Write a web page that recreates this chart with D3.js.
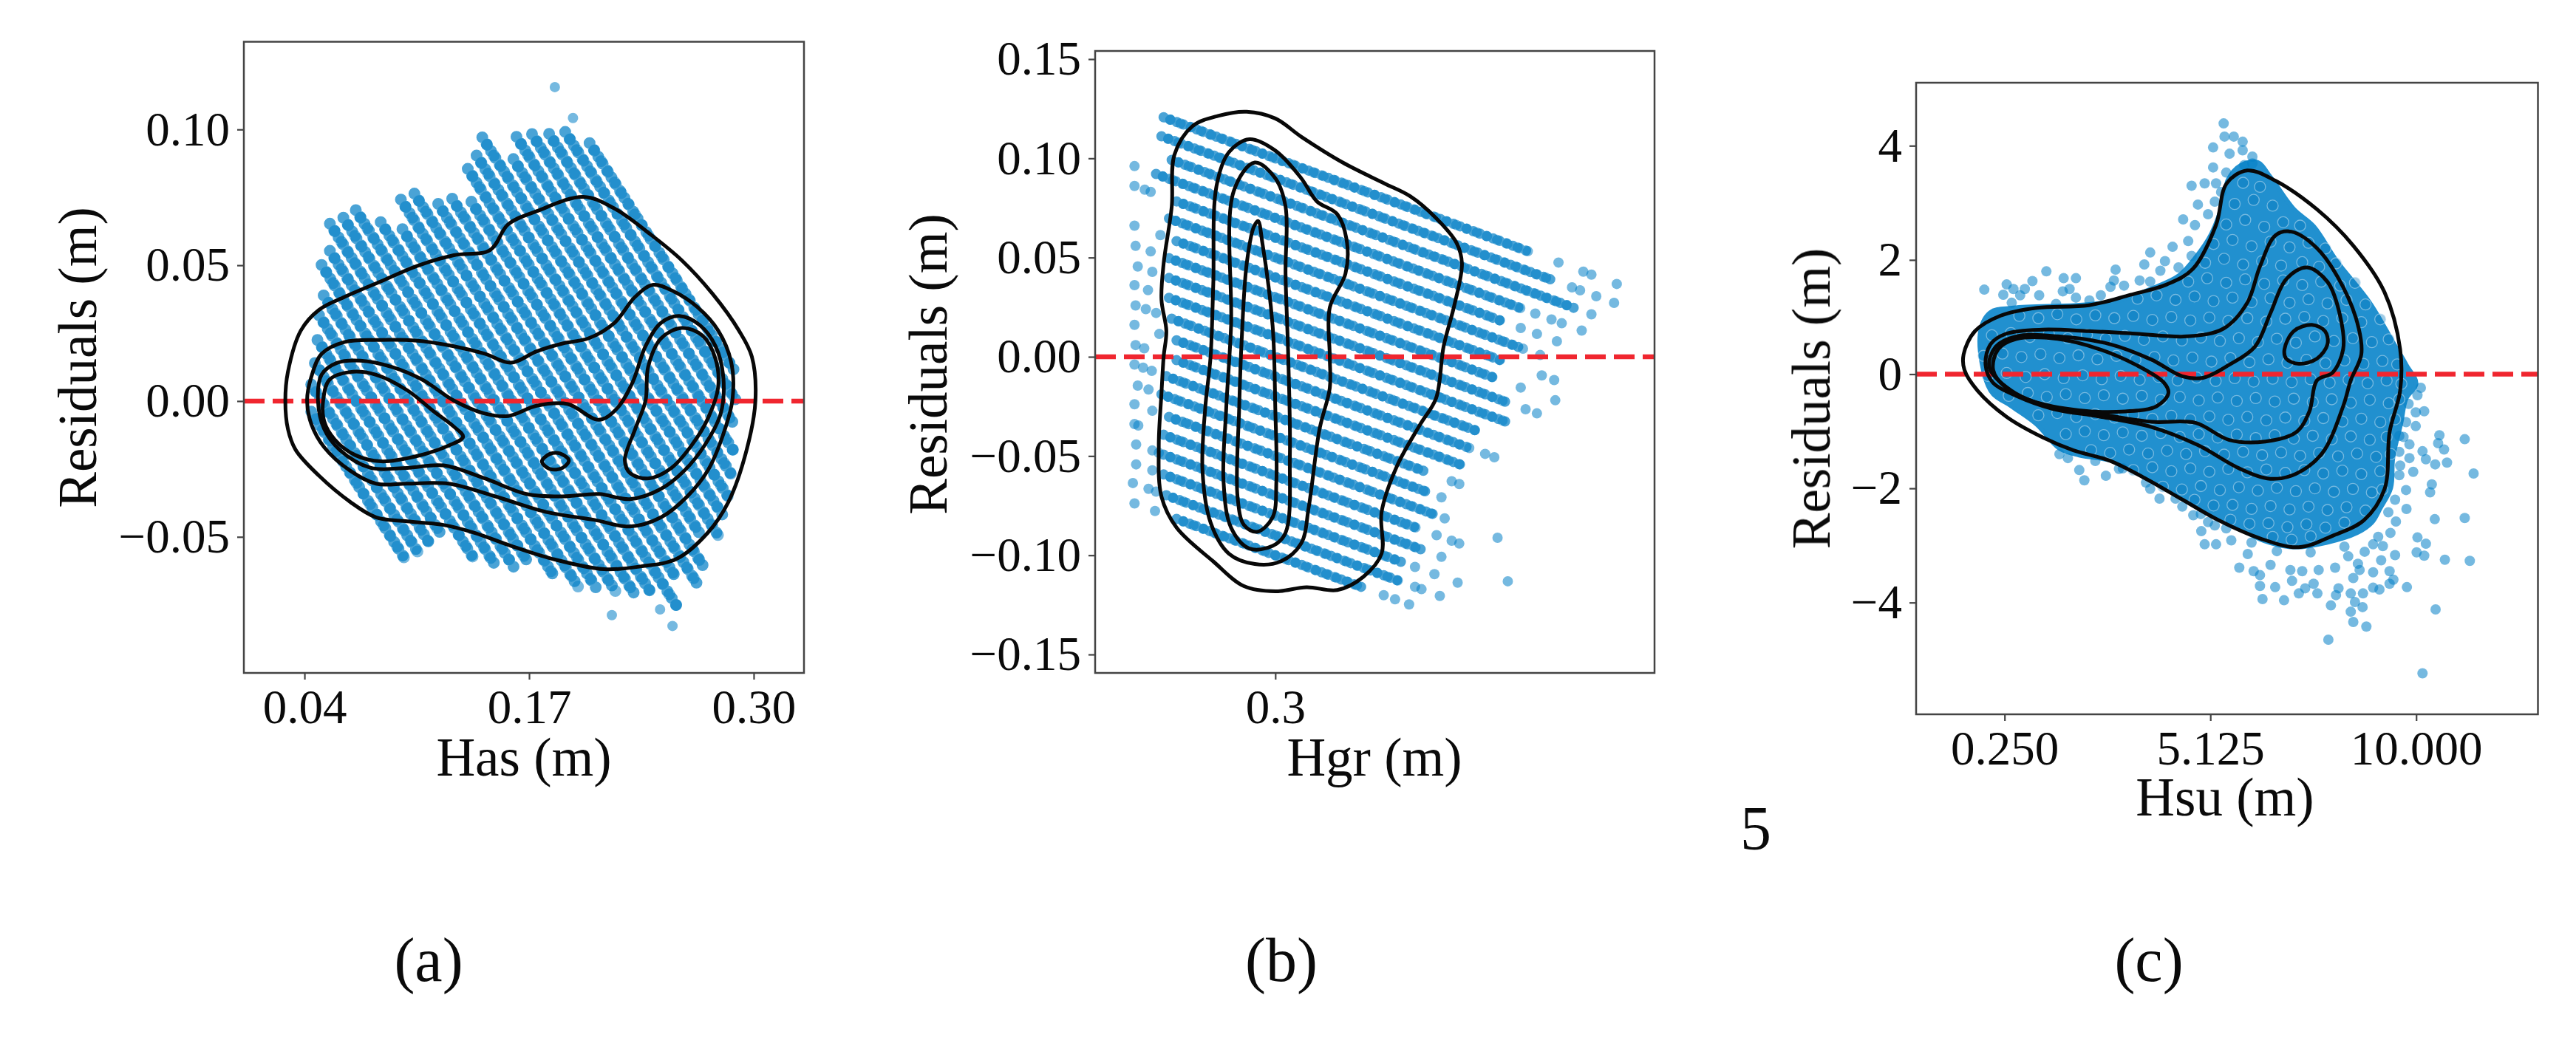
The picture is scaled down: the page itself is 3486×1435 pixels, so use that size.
<!DOCTYPE html>
<html lang="en">
<head>
    <meta charset="UTF-8">
    <title>Residuals vs wave heights</title>
    <script src="https://cdn.jsdelivr.net/npm/d3@7"></script>
    <style>
        body{
            margin: 0;
            background: white;
        }
        text{
            font-family: "Liberation Serif", serif;
            fill: #0a0a0a;
        }
    </style>
</head>
<body>
</body>
<script type="text/javascript">

    // Has panel. The dense cloud sits on diagonal lines, read as start and end of each line: [has, res, has, res]
    let hasStripes = [
        [.0439,-.0039,.0994,-.0594],[.0439,.0061,.1060,-.0560],[.0460,.0140,.1132,-.0532],
        [.0475,.0225,.1189,-.0489],[.0484,.0316,.1375,-.0575],[.0511,.0389,.1516,-.0616],
        [.0499,.0501,.1618,-.0618],[.0547,.0553,.1702,-.0602],[.0547,.0653,.1837,-.0637],
        [.0625,.0675,.1987,-.0687],[.0697,.0703,.2089,-.0689],[.0841,.0659,.2200,-.0700],
        [.0967,.0633,.2314,-.0714],[.0958,.0742,.2401,-.0701],[.1036,.0764,.2572,-.0772],
        [.1174,.0726,.2560,-.0660],[.1255,.0745,.2680,-.0680],[.1366,.0734,.2713,-.0613],
        [.1345,.0855,.2698,-.0498],[.1396,.0904,.2800,-.0500],[.1429,.0971,.2818,-.0418],
        [.1609,.0891,.2854,-.0354],[.1627,.0973,.2878,-.0278],[.1717,.0983,.2884,-.0184],
        [.1816,.0984,.2890,-.0090],[.1909,.0991,.2899,.0001],[.2050,.0950,.2884,.0116]
    ];
    let hasLoose = [[.1849,.1156],[.1954,.1042],[.2179,-.0788],[.2530,-.0828],[.2458,-.0767]];

    let hasContours = [
        [[.0289,.0002],[.0304,.0107],[.0379,.0260],[.0484,.0336],[.0634,.0384],[.0844,.0441],[.1054,.0498],[.1264,.0537],[.1474,.0556],[.1579,.0651],[.1744,.0699],[.2014,.0752],[.2194,.0709],[.2404,.0613],[.2584,.0518],[.2764,.0393],[.2914,.0260],[.2989,.0164],[.3010,.0002],[.2959,-.0180],[.2854,-.0371],[.2734,-.0485],[.2554,-.0581],[.2344,-.0609],[.2134,-.0619],[.1834,-.0581],[.1594,-.0533],[.1384,-.0485],[.1204,-.0456],[.0994,-.0443],[.0814,-.0428],[.0664,-.0371],[.0484,-.0275],[.0349,-.0180],[.0304,-.0103]],
        [[.0415,.0002],[.0439,.0088],[.0499,.0174],[.0634,.0218],[.0844,.0225],[.1054,.0222],[.1264,.0202],[.1444,.0174],[.1594,.0141],[.1744,.0183],[.1894,.0212],[.2044,.0231],[.2194,.0288],[.2314,.0384],[.2419,.0428],[.2539,.0403],[.2674,.0346],[.2794,.0260],[.2869,.0145],[.2878,.0011],[.2824,-.0122],[.2734,-.0256],[.2614,-.0352],[.2464,-.0428],[.2284,-.0462],[.2074,-.0437],[.1804,-.0409],[.1504,-.0351],[.1234,-.0304],[.0994,-.0304],[.0814,-.0304],[.0664,-.0256],[.0514,-.0170],[.0439,-.0084]],
        [[.0478,.0002],[.0499,.0097],[.0589,.0141],[.0724,.0149],[.0904,.0126],[.1084,.0078],[.1264,.0002],[.1444,-.0046],[.1579,-.0055],[.1744,-.0017],[.1924,-.0011],[.2104,-.0069],[.2209,-.0027],[.2299,.0069],[.2374,.0202],[.2464,.0288],[.2569,.0313],[.2689,.0279],[.2779,.0202],[.2824,.0088],[.2809,-.0046],[.2719,-.0160],[.2599,-.0256],[.2464,-.0323],[.2284,-.0361],[.2104,-.0342],[.1894,-.0351],[.1684,-.0342],[.1444,-.0285],[.1204,-.0237],[.0994,-.0246],[.0784,-.0246],[.0604,-.0180],[.0514,-.0103]],
        [[.0508,.0002],[.0544,.0078],[.0664,.0107],[.0814,.0097],[.0994,.0040],[.1144,-.0036],[.1264,-.0094],[.1318,-.0132],[.1234,-.0164],[.1054,-.0202],[.0844,-.0222],[.0694,-.0199],[.0574,-.0141],[.0514,-.0074]],
        [[.2254,-.0218],[.2314,-.0103],[.2374,.0002],[.2389,.0126],[.2464,.0231],[.2584,.0269],[.2704,.0241],[.2779,.0155],[.2794,.0050],[.2734,-.0065],[.2644,-.0160],[.2524,-.0246],[.2389,-.0285],[.2284,-.0265]],
        [[.1774,-.0222],[.1819,-.0195],[.1879,-.0193],[.1930,-.0218],[.1894,-.0246],[.1819,-.0250]]
    ];

    // Hgr panel, same idea
    let hgrStripes = [
        [.2793,.1207,.3476,.0524],[.2789,.1111,.3519,.0381],[.2808,.0992,.3553,.0247],
        [.2779,.0921,.3461,.0239],[.2817,.0783,.3423,.0177],[.2803,.0697,.3461,.0039],
        [.2817,.0583,.3423,-.0023],[.2803,.0497,.3406,-.0106],[.2803,.0397,.3437,-.0237],
        [.2803,.0297,.3430,-.0330],[.2808,.0192,.3375,-.0375],[.2817,.0083,.3365,-.0465],
        [.2817,-.0017,.3348,-.0548],[.2798,-.0098,.3283,-.0583],[.2789,-.0189,.3286,-.0686],
        [.2803,-.0303,.3292,-.0792],[.2793,-.0393,.3268,-.0868],[.2793,-.0493,.3274,-.0974],
        [.2793,-.0593,.3240,-.1040],[.2798,-.0698,.3231,-.1131],[.2817,-.0817,.3160,-.1160]
    ];
    let hgrLoose = [
        [.2739,.0961],[.2739,.0861],[.2758,.0842],[.2769,.0831],[.2739,.0661],[.2787,.0613],[.2741,.0559],[.2769,.0531],
        [.2745,.0455],[.2772,.0428],[.2739,.0361],[.2764,.0336],[.2741,.0259],[.2760,.0240],[.2779,.0221],[.2739,.0161],
        [.2785,.0115],[.2741,.0059],[.2757,.0043],[.2739,-.0039],[.2755,-.0055],[.2771,-.0071],[.2745,-.0145],[.2765,-.0165],
        [.2739,-.0239],[.2772,-.0272],[.2739,-.0339],[.2746,-.0346],[.2742,-.0442],[.2772,-.0472],[.2784,-.0484],[.2742,-.0542],
        [.2772,-.0572],[.2736,-.0636],[.2765,-.0665],[.2779,-.0679],[.2739,-.0739],[.2777,-.0777],
        [.3525,.0475],[.3571,.0429],[.3586,.0414],[.3633,.0367],[.3550,.0350],[.3565,.0335],[.3595,.0305],[.3628,.0272],
        [.3586,.0214],[.3482,.0218],[.3512,.0188],[.3531,.0169],[.3568,.0132],[.3455,.0145],[.3485,.0115],[.3522,.0078],
        [.3491,.0009],[.3494,-.0094],[.3517,-.0117],[.3455,-.0155],[.3519,-.0219],[.3464,-.0264],[.3485,-.0285],
        [.3389,-.0489],[.3406,-.0506],[.3327,-.0627],[.3341,-.0641],[.3308,-.0708],[.3314,-.0814],[.3412,-.0912],
        [.3299,-.0899],[.3327,-.0927],[.3341,-.0941],[.3308,-.1008],[.3431,-.1131],[.3259,-.1059],[.3295,-.1095],[.3338,-.1138],
        [.3259,-.1159],[.3271,-.1171],[.3305,-.1205],[.3201,-.1201],[.3222,-.1222],[.3248,-.1248]
    ];

    let hgrContours = [
        [[.2947,.1235],[.3000,.1201],[.3048,.1109],[.3125,.0979],[.3202,.0874],[.3250,.0809],[.3298,.0699],[.3336,.0574],[.3346,.0470],[.3332,.0261],[.3312,.0052],[.3298,-.0209],[.3269,-.0339],[.3226,-.0548],[.3197,-.0783],[.3197,-.0992],[.3163,-.1109],[.3115,-.1175],[.3058,-.1161],[.3000,-.1182],[.2942,-.1156],[.2885,-.1031],[.2817,-.0861],[.2789,-.0705],[.2784,-.0444],[.2789,-.0183],[.2793,0],[.2798,.0131],[.2789,.0287],[.2793,.0470],[.2808,.0757],[.2813,.1018],[.2846,.1161],[.2894,.1214]],
        [[.2952,.1096],[.3,.1039],[.3048,.0900],[.3077,.0783],[.3115,.0718],[.3133,.0574],[.3130,.0418],[.3101,.0248],[.3101,0],[.3101,-.0157],[.3082,-.0365],[.3062,-.0757],[.3048,-.0940],[.3010,-.1031],[.2962,-.1044],[.2914,-.0992],[.2880,-.0835],[.2865,-.0574],[.2870,-.0261],[.2880,0],[.2885,.0365],[.2891,.0861],[.2914,.1031]],
        [[.2962,.0979],[.3,.0900],[.3019,.0757],[.3019,.0418],[.3024,0],[.3027,-.0496],[.3019,-.0887],[.2995,-.0953],[.2952,-.0966],[.2918,-.0861],[.2904,-.0626],[.2909,-.0261],[.2918,.0157],[.2923,.0835]],
        [[.2968,.0684],[.2976,.0574],[.2995,.0157],[.3,-.0261],[.3002,-.0626],[.2995,-.0809],[.2966,-.0882],[.2942,-.0848],[.2930,-.0705],[.2933,-.0261],[.2938,.0104],[.2947,.0470],[.2960,.0653]]
    ];

    // Hsu panel. Cloud too dense to read dot by dot: outline of the solid part, edge dots as seen, a sample of inner dots
    let hsuCloud = [
        [-.33,.71],[-.09,1.08],[.46,1.16],[2.02,1.21],[2.96,1.29],[3.74,1.50],[4.37,1.72],[4.76,2.03],[5.15,2.46],[5.46,3.10],[5.54,3.40],[5.85,3.66],[6.24,3.71],[6.55,3.45],[7.10,2.89],[7.57,2.59],[8.12,1.98],[8.90,1.25],[9.45,.56],[9.76,.17],[10.0,-.17],
        [9.76,-.43],[9.64,-.86],[9.45,-1.47],[9.4,-1.99],[9.15,-2.35],[8.95,-2.6],[8.6,-2.78],[7.88,-2.95],[7.10,-3.03],[6.40,-2.92],[5.77,-2.68],[5.15,-2.42],[4.68,-2.22],[4.05,-2.0],[3.43,-1.75],[2.80,-1.52],[2.02,-1.42],[1.55,-1.3],[1.01,-.88],[.41,-.56],[-.08,-.29]
    ];
    let hsuEdge = [
        [5.44,4.39],[5.46,4.16],[5.68,4.16],[5.89,4.07],[5.19,3.97],[5.58,3.86],[5.89,3.92],[6.12,3.81],[5.19,3.62],[5.50,3.53],[5.93,3.66],[6.12,3.69],[4.68,3.30],[4.99,3.34],[5.26,3.34],[4.83,2.97],[5.23,3.02],[4.48,2.71],[5.07,2.80],[4.76,2.61],[4.60,2.33],[4.23,2.23],[3.70,2.13],[3.56,1.92],[4.05,1.98],[3.94,1.81],[2.88,1.83],[2.84,1.64],[2.76,1.53],[3.08,1.55],[3.45,1.64],[3.70,1.62],[1.24,1.80],[.91,1.63],[1.65,1.68],[1.94,1.68],[1.63,1.45],[1.79,1.49],[-.23,1.48],[.30,1.57],[.46,1.49],[.73,1.49],[.22,1.39],[.62,1.38],[1.07,1.38],[1.94,1.34],[2.53,1.38],[2.26,1.29],[1.47,1.23],[.42,1.25],[4.37,1.87],[4.68,2.07],[5.38,3.19],
        [10.55,-1.07],[11.15,-1.14],[10.52,-1.21],[10.66,-1.32],[10.15,-1.35],[10.23,-1.49],[10.73,-1.55],[10.45,-1.58],[11.36,-1.74],[9.84,-1.23],[9.60,-1.36],[9.84,-1.47],[9.93,-1.71],[9.60,-1.77],[10.37,-1.93],[10.33,-2.07],[9.76,-2.03],[10.19,-.65],[9.99,-.67],[9.82,-.52],[10.03,-.37],[10.11,-.24],[9.76,-.84],[9.99,-.91],[9.60,-1.08],[9.77,-2.36],[10.44,-2.54],[11.15,-2.52],[9.34,-2.42],[9.52,-2.58],[9.39,-2.78],[10.03,-2.86],[10.23,-2.97],[10.01,-3.12],[10.19,-3.18],[10.68,-3.25],[11.27,-3.27],[9.50,-3.17],[9.21,-3.01],[8.98,-2.98],[9.17,-3.26],[9.37,-3.45],[9.46,-3.60],[9.78,-3.73],[9.37,-3.67],[8.98,-3.47],[8.62,-3.32],[8.66,-3.43],[8.51,-3.57],[9.13,-3.77],[8.98,-3.74],[8.74,-3.84],[8.45,-3.84],[8.16,-3.75],[8.10,-3.87],[7.98,-4.05],[8.55,-3.99],[8.73,-4.08],[8.45,-4.16],[8.51,-4.34],[8.82,-4.42],[10.46,-4.12],[7.92,-4.65],[10.15,-5.24],[7.57,-3.67],[7.37,-3.75],[7.22,-3.84],[7.66,-3.84],[7.06,-3.62],[6.66,-3.73],[6.30,-3.71],[6.36,-3.94],[6.87,-3.96],[6.30,-3.52],[6.15,-3.45],[5.81,-3.39],[4.99,-2.98],[5.26,-2.98],[5.62,-2.91],[6.01,-3.15],[6.55,-3.34],[7.02,-3.43],[7.30,-3.45],[7.69,-3.43],[8.08,-3.39],[8.39,-3.19],[8.78,-3.11],[4.91,-2.75],[5.23,-2.65],[4.72,-2.47],[4.46,-2.32],[3.92,-2.18],[3.70,-2.01],[2.14,-1.86],[2.65,-1.78],[2.02,-1.68],[2.96,-1.66],[1.55,-1.40],[1.75,-1.47],[5.07,-2.59],
        [9.1,-2.85],[9.5,-2.2],[9.62,-1.6],[9.7,-1.1],[8.3,-3.02],[7.5,-3.12],[6.7,-3.1],[6.1,-2.95],[5.5,-2.7],[4.9,-2.45],[4.3,-2.18],[3.6,-1.9],[3.05,-1.65],[2.4,-1.52]
    ];
    let hsuInner = [
        [5.9,3.35],[6.3,3.28],
        [5.7,2.98],[6.15,3.05],[6.6,2.95],
        [5.5,2.62],[5.95,2.7],[6.4,2.58],[6.85,2.66],[7.25,2.6],
        [5.2,2.28],[5.65,2.35],[6.1,2.24],[6.55,2.32],[7.0,2.22],[7.45,2.3],[7.85,2.2],
        [5.0,1.95],[5.45,2.02],[5.9,1.92],[6.35,1.98],[6.8,1.9],[7.3,1.96],[7.7,1.88],[8.1,1.94],
        [4.6,1.62],[5.05,1.68],[5.5,1.6],[5.95,1.66],[6.4,1.58],[6.85,1.64],[7.3,1.56],[7.75,1.62],[8.2,1.55],[8.55,1.6],
        [3.4,1.32],[3.85,1.38],[4.3,1.3],[4.75,1.36],[5.2,1.28],[5.65,1.34],[6.1,1.26],[6.55,1.33],[7.0,1.25],[7.45,1.31],[7.9,1.24],[8.35,1.3],[8.8,1.22],
        [.6,1.02],[1.05,.98],[1.5,1.05],[1.95,.96],[2.4,1.03],[2.85,.98],[3.3,1.02],[3.75,.95],[4.2,1.0],[4.65,.94],[5.1,.99],[5.55,.93],[6.0,.98],[6.45,.92],[6.9,.97],[7.35,1.0],[7.8,.93],[8.25,.98],[8.7,.91],[9.15,.96],
        [-.05,.68],[.4,.72],[.85,.65],[1.3,.7],[1.75,.63],[2.2,.69],[2.65,.62],[3.1,.67],[3.55,.6],[4.0,.66],[4.45,.59],[4.9,.64],[5.35,.58],[5.8,.63],[6.25,.56],[6.7,.62],[7.15,.55],[7.6,.66],[8.05,.58],[8.5,.63],[8.95,.56],[9.35,.61],
        [-.25,.32],[.2,.36],[.65,.3],[1.1,.35],[1.55,.28],[2.0,.33],[2.45,.26],[2.9,.32],[3.35,.25],[3.8,.3],[4.25,.24],[4.7,.29],[5.15,.22],[5.6,.28],[6.05,.21],[6.5,.26],[6.95,.2],[7.4,.25],[7.85,.19],[8.3,.24],[8.75,.18],[9.2,.23],[9.55,.17],
        [-.15,-.03],[.3,.02],[.75,-.05],[1.2,0],[1.65,-.07],[2.1,-.02],[2.55,-.09],[3.0,-.03],[3.45,-.1],[3.9,-.05],[4.35,-.11],[4.8,-.06],[5.25,-.12],[5.7,-.07],[6.15,-.13],[6.6,-.08],[7.05,-.14],[7.5,-.09],[7.95,-.15],[8.4,-.1],[8.85,-.16],[9.3,-.11],[9.65,-.17],
        [.35,-.38],[.8,-.33],[1.25,-.4],[1.7,-.35],[2.15,-.42],[2.6,-.37],[3.05,-.43],[3.5,-.38],[3.95,-.45],[4.4,-.4],[4.85,-.46],[5.3,-.41],[5.75,-.47],[6.2,-.42],[6.65,-.48],[7.1,-.43],[7.55,-.49],[8.0,-.44],[8.45,-.5],[8.9,-.45],[9.35,-.51],[9.6,-.44],
        [1.05,-.72],[1.5,-.68],[1.95,-.75],[2.4,-.7],[2.85,-.76],[3.3,-.71],[3.75,-.78],[4.2,-.73],[4.65,-.79],[5.1,-.74],[5.55,-.8],[6.0,-.75],[6.45,-.81],[6.9,-.76],[7.35,-.82],[7.8,-.77],[8.25,-.83],[8.7,-.78],[9.15,-.84],[9.5,-.79],
        [1.7,-1.05],[2.15,-1.0],[2.6,-1.07],[3.05,-1.02],[3.5,-1.08],[3.95,-1.03],[4.4,-1.1],[4.85,-1.05],[5.3,-1.11],[5.75,-1.06],[6.2,-1.12],[6.65,-1.07],[7.1,-1.13],[7.55,-1.08],[8.0,-1.14],[8.45,-1.09],[8.9,-1.15],[9.3,-1.1],
        [2.3,-1.33],[2.75,-1.38],[3.2,-1.32],[3.65,-1.39],[4.1,-1.34],[4.55,-1.4],[5.0,-1.35],[5.45,-1.41],[5.9,-1.36],[6.35,-1.42],[6.8,-1.37],[7.25,-1.43],[7.7,-1.38],[8.15,-1.44],[8.6,-1.39],[9.05,-1.45],[9.4,-1.4],
        [3.3,-1.68],[3.75,-1.63],[4.2,-1.7],[4.65,-1.65],[5.1,-1.71],[5.55,-1.66],[6.0,-1.72],[6.45,-1.67],[6.9,-1.73],[7.35,-1.68],[7.8,-1.74],[8.25,-1.69],[8.7,-1.75],[9.15,-1.7],
        [4.0,-1.97],[4.45,-2.02],[4.9,-1.96],[5.35,-2.03],[5.8,-1.98],[6.25,-2.04],[6.7,-1.99],[7.15,-2.05],[7.6,-2.0],[8.05,-2.06],[8.5,-2.01],[8.95,-2.07],[9.2,-2.02],
        [4.75,-2.2],[5.2,-2.3],[5.65,-2.29],[6.1,-2.36],[6.55,-2.31],[7.0,-2.37],[7.45,-2.32],[7.9,-2.38],[8.35,-2.33],[8.8,-2.39],
        [5.6,-2.55],[6.05,-2.62],[6.5,-2.61],[6.95,-2.68],[7.4,-2.63],[7.85,-2.69],[8.3,-2.6],
        [6.6,-2.85],[7.05,-2.9],[7.5,-2.84]
    ];

    let hsuContours = [
        [[-.72,.345],[-.45,.753],[.16,1.025],[1.02,1.161],[2.25,1.207],[3.23,1.388],[4.09,1.570],[4.71,1.842],[5.26,2.613],[5.51,3.339],[6.00,3.566],[6.67,3.385],[7.65,2.886],[8.51,2.250],[9.25,1.434],[9.62,.436],[9.62,-.290],[9.37,-1.016],[9.25,-2.014],[8.76,-2.559],[8.02,-2.831],[7.22,-3.031],[6.30,-2.876],[5.32,-2.559],[4.46,-2.196],[3.60,-1.833],[2.74,-1.515],[1.88,-1.334],[1.15,-1.107],[.29,-.744],[-.39,-.290],[-.70,.073]],
        [[-.20,.163],[-.08,.526],[.29,.708],[1.15,.780],[2.25,.753],[3.36,.708],[4.58,.662],[5.44,.799],[6.00,1.252],[6.30,1.887],[6.67,2.432],[7.04,2.495],[7.65,2.205],[8.27,1.524],[8.64,.799],[8.70,.345],[8.45,-.109],[8.27,-.563],[7.78,-1.379],[7.16,-1.742],[6.55,-1.833],[5.81,-1.651],[4.83,-1.243],[3.73,-.926],[2.50,-.744],[1.39,-.608],[.53,-.381],[-.02,-.154]],
        [[-.11,.118],[.04,.481],[.53,.662],[1.51,.662],[2.74,.526],[3.73,.254],[4.46,-.036],[4.95,-.064],[5.57,.163],[6.18,.481],[6.55,1.071],[6.92,1.661],[7.41,1.869],[7.90,1.615],[8.21,.980],[8.27,.436],[8.02,.027],[7.65,-.109],[7.47,-.653],[7.16,-1.016],[6.43,-1.180],[5.57,-1.152],[4.77,-.853],[3.73,-.835],[2.50,-.699],[1.27,-.563],[.41,-.290]],
        [[-.02,.073],[.10,.436],[.53,.617],[1.51,.617],[2.50,.436],[3.36,.163],[4.03,-.154],[4.13,-.336],[3.85,-.563],[3.11,-.653],[2.01,-.635],[.90,-.472],[.29,-.245]],
        [[6.88,.436],[7.10,.753],[7.53,.862],[7.84,.753],[7.90,.526],[7.65,.272],[7.22,.181],[6.92,.272]]
    ];

    let hasXTicks = [0.04,0.17,0.30];
    let hgrXTicks = [0.3];
    let hsuXTicks = [0.25,5.125,10];
    let hasYTicks = [-0.05,0,0.05,0.10];
    let hgrYTicks = [-0.15,-0.10,-0.05,0,0.05,0.10,0.15];
    let hsuYTicks = [-4,-2,0,2,4];

    let width=3486;
    let height=1435;
    let dotColor="#0480c6";
    let tickFont=65;
    let labelFont=73;

    let svg=d3.select("body")
        .append("svg")
        .attr("width",width)
        .attr("height",height)
        .style("display","block");

    function drawPanel(p){
        let g=svg.append("g").style("filter","blur(0.7px)");
        let x=d3.scaleLinear().domain(p.xDomain).range(p.xRange);
        let y=d3.scaleLinear().domain(p.yDomain).range(p.yRange);

        let dots=g.append("g");
        if(p.cloud){
            let area=d3.line().x(d=>x(d[0])).y(d=>y(d[1])).curve(d3.curveCatmullRomClosed);
            dots.append("path").attr("d",area(p.cloud))
                .attr("fill","#2190cf").attr("stroke","#2190cf").attr("stroke-width",6);
        }
        // each stripe twice with different dot pitch, overlaps get darker as in the scatter
        (p.stripes||[]).forEach((s)=>{
            [[p.pitch,0,.72],[p.pitch*1.55,5,.55]].forEach((pass)=>{
                dots.append("line")
                    .attr("x1",x(s[0])).attr("y1",y(s[1]))
                    .attr("x2",x(s[2])).attr("y2",y(s[3]))
                    .attr("stroke",dotColor)
                    .attr("stroke-width",p.dot)
                    .attr("stroke-linecap","round")
                    .attr("stroke-dasharray",`0 ${pass[0]}`)
                    .attr("stroke-dashoffset",pass[1])
                    .attr("stroke-opacity",pass[2]);
            });
        });
        dots.selectAll("circle.loose").data(p.loose).join("circle")
            .attr("class","loose")
            .attr("cx",d=>x(d[0])).attr("cy",d=>y(d[1])).attr("r",p.looseR)
            .attr("fill",dotColor).attr("fill-opacity",.55);
        if(p.inner){
            dots.selectAll("circle.inner").data(p.inner).join("circle")
                .attr("class","inner")
                .attr("cx",d=>x(d[0])).attr("cy",d=>y(d[1])).attr("r",7.5)
                .attr("fill","#0578bd").attr("fill-opacity",.38)
                .attr("stroke","#cfe8f5").attr("stroke-width",1.3).attr("stroke-opacity",.5);
        }

        g.append("line")
            .attr("x1",p.xRange[0]).attr("x2",p.xRange[1])
            .attr("y1",y(0)).attr("y2",y(0))
            .attr("stroke","#f0262f").attr("stroke-width",6.5)
            .attr("stroke-dasharray","28 11");

        let contour=d3.line().x(d=>x(d[0])).y(d=>y(d[1])).curve(d3.curveCatmullRomClosed);
        g.selectAll("path.contour").data(p.contours).join("path")
            .attr("class","contour")
            .attr("d",contour)
            .attr("fill","none").attr("stroke","#080808").attr("stroke-width",5);

        g.append("rect")
            .attr("x",p.xRange[0]).attr("y",p.yRange[1])
            .attr("width",p.xRange[1]-p.xRange[0]).attr("height",p.yRange[0]-p.yRange[1])
            .attr("fill","none").attr("stroke","#444").attr("stroke-width",2.5);

        let xAxis=d3.axisBottom(x).tickValues(p.xTicks).tickFormat(p.xFormat).tickSize(9).tickPadding(13);
        let yAxis=d3.axisLeft(y).tickValues(p.yTicks).tickFormat(p.yFormat).tickSize(9).tickPadding(10);
        let xg=g.append("g").attr("transform",`translate(0,${p.yRange[0]})`).call(xAxis);
        let yg=g.append("g").attr("transform",`translate(${p.xRange[0]},0)`).call(yAxis);
        [xg,yg].forEach((a)=>{
            a.select(".domain").remove();
            a.selectAll("line").attr("stroke","#444").attr("stroke-width",2.2);
            a.selectAll("text").style("font-family",'"Liberation Serif", serif').style("font-size",tickFont+"px").attr("fill","#0a0a0a");
        });

        g.append("text")
            .attr("x",p.xLabel[0]).attr("y",p.xLabel[1])
            .attr("text-anchor","middle").style("font-size",labelFont+"px")
            .text(p.xTitle);
        g.append("text")
            .attr("transform",`translate(${p.yLabel[0]},${p.yLabel[1]}) rotate(-90)`)
            .attr("text-anchor","middle").style("font-size",labelFont+"px")
            .text("Residuals (m)");
    }

    let minus=(s)=>s.replace("-","\u2212");

    drawPanel({
        xDomain:[.0049,.3291],yDomain:[-.1001,.1323],
        xRange:[330,1088],yRange:[911,56.5],
        stripes:hasStripes,loose:hasLoose,contours:hasContours,pitch:11,dot:16,looseR:7,
        xTicks:hasXTicks,yTicks:hasYTicks,
        xFormat:d3.format(".2f"),yFormat:(d)=>minus(d3.format(".2f")(d)),
        xTitle:"Has (m)",xLabel:[709,1050],yLabel:[130,484]
    });
    drawPanel({
        xDomain:[.2666,.3703],yDomain:[-.1593,.1541],
        xRange:[1482,2239],yRange:[911,69],
        stripes:hgrStripes,loose:hgrLoose,contours:hgrContours,pitch:9.5,dot:14,looseR:7,
        xTicks:hgrXTicks,yTicks:hgrYTicks,
        xFormat:d3.format(".1f"),yFormat:(d)=>minus(d3.format(".2f")(d)),
        xTitle:"Hgr (m)",xLabel:[1860,1050],yLabel:[1281,493]
    });
    drawPanel({
        xDomain:[-1.845,12.884],yDomain:[-5.957,5.103],
        xRange:[2593,3434.5],yRange:[967,112],
        cloud:hsuCloud,loose:hsuEdge,inner:hsuInner,contours:hsuContours,dot:14,looseR:7,
        xTicks:hsuXTicks,yTicks:hsuYTicks,
        xFormat:d3.format(".3f"),yFormat:(d)=>minus(String(d)),
        xTitle:"Hsu (m)",xLabel:[3011,1104],yLabel:[2476,539.5]
    });

    let captions=[["(a)",580,1328],["(b)",1734,1328],["(c)",2908,1328],["5",2376,1150]];
    svg.selectAll("text.caption").data(captions).join("text")
        .attr("class","caption")
        .attr("x",d=>d[1]).attr("y",d=>d[2])
        .attr("text-anchor","middle")
        .style("font-size","84px")
        .text(d=>d[0]);
</script>
</html>
